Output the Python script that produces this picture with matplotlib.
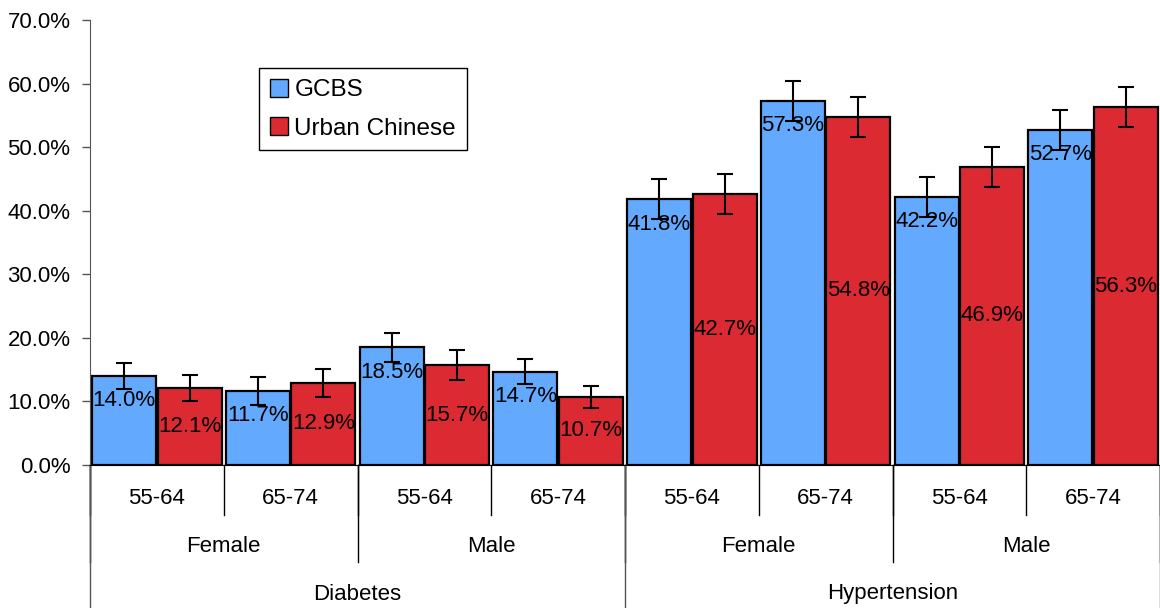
import matplotlib
matplotlib.use("Agg")
import matplotlib.pyplot as plt
import matplotlib.transforms as mtransforms
from matplotlib.patches import Patch

plt.rcParams['font.family'] = ['Liberation Sans', 'DejaVu Sans']

# data
age_labels = ["55-64", "65-74"] * 4
sex_labels = ["Female", "Male", "Female", "Male"]
disease_labels = ["Diabetes", "Hypertension"]
gcbs = [14.0, 11.7, 18.5, 14.7, 41.8, 57.3, 42.2, 52.7]
urban = [12.1, 12.9, 15.7, 10.7, 42.7, 54.8, 46.9, 56.3]
gcbs_err = [2.0, 2.2, 2.3, 2.0, 3.15, 3.15, 3.15, 3.1]
urban_err = [2.0, 2.2, 2.4, 1.75, 3.15, 3.15, 3.1, 3.1]

blue = '#63AAFF'
red = '#DC2A32'

fig = plt.figure(figsize=(11.6, 6.08), dpi=100)
ax = fig.add_axes([90 / 1160, 143 / 608, 1070 / 1160, 445 / 608])

x = list(range(len(gcbs)))
w = 0.48
off = 0.245
xb = [i - off for i in x]
xr = [i + off for i in x]
err_kw = dict(ecolor='black', elinewidth=1.5, capsize=6, capthick=1.5, zorder=4)
ax.bar(xb, gcbs, w, color=blue, edgecolor='black', linewidth=1.6,
       yerr=gcbs_err, error_kw=err_kw, zorder=2)
ax.bar(xr, urban, w, color=red, edgecolor='black', linewidth=1.6,
       yerr=urban_err, error_kw=err_kw, zorder=2)

# data labels
for xi, v in zip(xb, gcbs):
    ax.annotate(f"{v:.1f}%", (xi, v), xytext=(0, -25), textcoords='offset pixels',
                ha='center', va='center', fontsize=16, zorder=3)
for xi, v in zip(xr, urban):
    ax.text(xi, v / 2, f"{v:.1f}%", ha='center', va='center', fontsize=16, zorder=3)

ax.set_xlim(-0.5, 7.5)
ax.set_ylim(0, 70)
ax.set_yticks(range(0, 71, 10))
ax.set_yticklabels([f"{t:.1f}%" for t in range(0, 71, 10)], fontsize=16)
ax.tick_params(axis='y', length=6, width=1, pad=8, color='#555555')
ax.set_xticks([])
for s in ['top', 'right']:
    ax.spines[s].set_visible(False)
ax.spines['left'].set_color('#555555')
ax.spines['bottom'].set_color('black')

# multi-level category axis
trans = mtransforms.blended_transform_factory(ax.transData, ax.transAxes)
lv1, lv2, lv3 = -50 / 445, -97 / 445, -143 / 445
for b in [i - 0.5 for i in range(9)]:
    ax.plot([b, b], [0, lv1], transform=trans, color='black', lw=1, clip_on=False)
for b in [-0.5, 1.5, 3.5, 5.5, 7.5]:
    ax.plot([b, b], [0, lv2], transform=trans, color='black', lw=1, clip_on=False)
for b in [-0.5, 3.5, 7.5]:
    ax.plot([b, b], [0, lv3], transform=trans, color='#555555', lw=1, clip_on=False)

for i, lab in enumerate(age_labels):
    ax.text(i, -33 / 445, lab, transform=trans, ha='center', va='center', fontsize=16)
for i, lab in enumerate(sex_labels):
    ax.text(2 * i + 0.5, -81 / 445, lab, transform=trans, ha='center', va='center', fontsize=16)
for i, lab in enumerate(disease_labels):
    ax.text(4 * i + 1.5, -129 / 445, lab, transform=trans, ha='center', va='center', fontsize=16)

handles = [Patch(facecolor=blue, edgecolor='black', label='GCBS'),
           Patch(facecolor=red, edgecolor='black', label='Urban Chinese')]
leg = ax.legend(handles=handles, loc='upper left', bbox_to_anchor=(0.158, 0.892),
                borderaxespad=0, fontsize=17.5, fancybox=False, edgecolor='black',
                handlelength=0.75, handleheight=0.75, handletextpad=0.25,
                labelspacing=0.65, borderpad=0.45, framealpha=1)
leg.get_frame().set_linewidth(1)

fig.savefig("out.png", dpi=100)
